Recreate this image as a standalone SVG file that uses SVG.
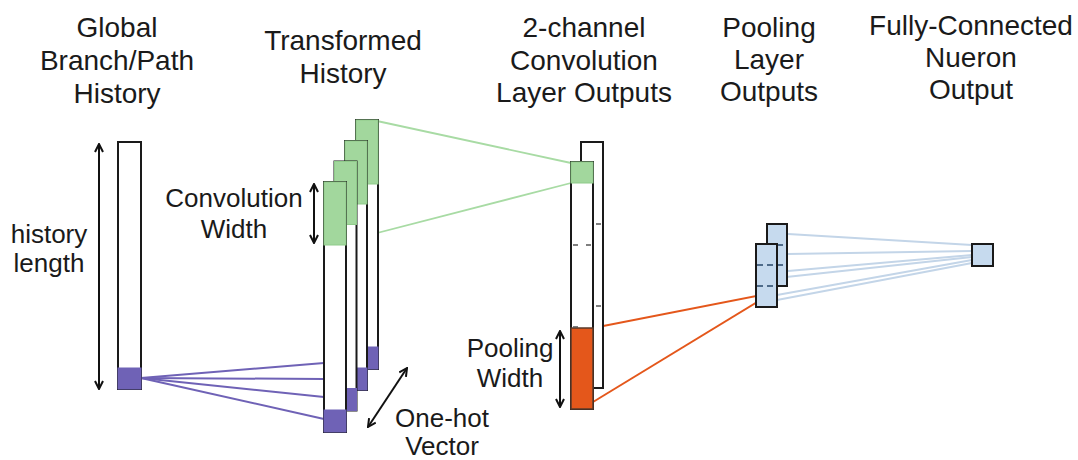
<svg xmlns="http://www.w3.org/2000/svg" width="1078" height="460" viewBox="0 0 1078 460">
<style>
text{font-family:"Liberation Sans",Arial,sans-serif;fill:#1a1a1a;text-anchor:middle}
.h{font-size:28px}
.l{font-size:26px}
.col{fill:#fff;stroke:#1a1a1a;stroke-width:2}
.grn{fill:#a2d79d;stroke:#8fcb8a;stroke-width:1}
.pur{fill:#6f62b6;stroke:#6f62b6;stroke-width:1}
.org{fill:#e4571b;stroke:#5a3a2a;stroke-width:1.5}
.blu{fill:#c6daee;stroke:#1a1a1a;stroke-width:2}
.dash{stroke:#555;stroke-width:1.5}
.bdash{stroke:#4e6b8a;stroke-width:2;stroke-dasharray:6,4}
.arr{stroke:#111;stroke-width:2;fill:none;marker-start:url(#ah);marker-end:url(#ah)}
.gl{stroke:#a8dba4;stroke-width:1.8;fill:none}
.pl{stroke:#6f62b6;stroke-width:2;fill:none}
.ol{stroke:#e4571b;stroke-width:2;fill:none}
.bl{stroke:#c3d5e8;stroke-width:1.8;fill:none}
</style>
<defs>
<marker id="ah" viewBox="0 0 10 10" refX="9" refY="5" markerWidth="10" markerHeight="10" markerUnits="userSpaceOnUse" orient="auto-start-reverse">
<polyline points="1,1 9,5 1,9" fill="none" stroke="#111" stroke-width="2"/>
</marker>
</defs>

<g id="titles">
<text class="h" x="117" y="37">Global</text>
<text class="h" x="117" y="70">Branch/Path</text>
<text class="h" x="117" y="103">History</text>
<text class="h" x="343" y="50">Transformed</text>
<text class="h" x="343" y="83">History</text>
<text class="h" x="584" y="37">2-channel</text>
<text class="h" x="584" y="70">Convolution</text>
<text class="h" x="584" y="102">Layer Outputs</text>
<text class="h" x="769" y="37">Pooling</text>
<text class="h" x="769" y="69">Layer</text>
<text class="h" x="769" y="101">Outputs</text>
<text class="h" x="971" y="35">Fully-Connected</text>
<text class="h" x="971" y="67">Nueron</text>
<text class="h" x="971" y="99">Output</text>
</g>

<g id="connectors">
<line class="pl" x1="141" y1="378" x2="324" y2="363"/>
<line class="pl" x1="141" y1="378" x2="324" y2="379"/>
<line class="pl" x1="141" y1="378" x2="324" y2="397"/>
<line class="pl" x1="141" y1="378" x2="324" y2="419"/>
<line class="gl" x1="377" y1="121" x2="571" y2="163"/>
<line class="gl" x1="346" y1="241" x2="571" y2="183"/>
<line class="ol" x1="593" y1="328" x2="767" y2="294"/>
<line class="ol" x1="593" y1="402" x2="767" y2="296"/>
<line class="bl" x1="788" y1="234" x2="972" y2="245"/>
<line class="bl" x1="788" y1="254" x2="972" y2="251"/>
<line class="bl" x1="788" y1="271" x2="972" y2="255"/>
<line class="bl" x1="777" y1="278" x2="972" y2="257"/>
<line class="bl" x1="777" y1="295" x2="972" y2="260"/>
<line class="bl" x1="777" y1="300" x2="972" y2="263"/>
</g>

<g id="global-history">
<rect class="col" x="118" y="142" width="23" height="247"/>
<rect class="pur" x="118" y="368" width="23" height="21"/>
</g>

<g id="transformed-history">
<rect class="col" x="356" y="120" width="22" height="249"/>
<rect class="grn" x="356" y="120" width="22" height="64"/>
<rect class="pur" x="356" y="347" width="22" height="22"/>
<rect class="col" x="345" y="141" width="22" height="249"/>
<rect class="grn" x="345" y="141" width="22" height="63"/>
<rect class="pur" x="345" y="368" width="22" height="22"/>
<rect class="col" x="334.5" y="161.5" width="22" height="249"/>
<rect class="grn" x="334.5" y="161.5" width="22" height="63"/>
<rect class="pur" x="334.5" y="388.5" width="22" height="22"/>
<rect class="col" x="324" y="182" width="22" height="250"/>
<rect class="grn" x="324" y="182" width="22" height="63"/>
<rect class="pur" x="324" y="410" width="22" height="22"/>
</g>

<g id="conv-outputs">
<rect class="col" x="581" y="142" width="22" height="246"/>
<line class="dash" x1="596" y1="224" x2="601" y2="224"/>
<line class="dash" x1="596" y1="306" x2="601" y2="306"/>
<rect class="col" x="571" y="162" width="22" height="247"/>
<rect class="grn" x="571" y="162" width="22" height="21"/>
<line class="dash" x1="573" y1="245" x2="578" y2="245"/>
<line class="dash" x1="586" y1="245" x2="591" y2="245"/>
<rect class="org" x="571" y="328" width="22" height="81"/>
<line class="dash" x1="573" y1="327" x2="578" y2="327"/>
</g>

<g id="pooling-outputs">
<rect class="blu" x="767" y="224" width="20" height="62"/>
<line class="bdash" x1="777" y1="245" x2="786" y2="245"/>
<line class="bdash" x1="777" y1="265" x2="786" y2="265"/>
<rect class="blu" x="756" y="244" width="21" height="63"/>
<line class="bdash" x1="757" y1="265" x2="776" y2="265"/>
<line class="bdash" x1="757" y1="286" x2="776" y2="286"/>
</g>

<g id="fc-output">
<rect class="blu" x="972" y="244" width="21" height="22"/>
</g>

<g id="labels">
<line class="arr" x1="99" y1="144" x2="99" y2="389"/>
<text class="l" x="49" y="243">history</text>
<text class="l" x="49" y="272">length</text>
<line class="arr" x1="314" y1="184" x2="314" y2="243"/>
<text class="l" x="234" y="207">Convolution</text>
<text class="l" x="234" y="238">Width</text>
<line class="arr" x1="560" y1="331" x2="560" y2="407"/>
<text class="l" x="510" y="357">Pooling</text>
<text class="l" x="510" y="387">Width</text>
<line class="arr" x1="407" y1="368" x2="368" y2="427"/>
<text class="l" x="442" y="427">One-hot</text>
<text class="l" x="442" y="455">Vector</text>
</g>
</svg>
